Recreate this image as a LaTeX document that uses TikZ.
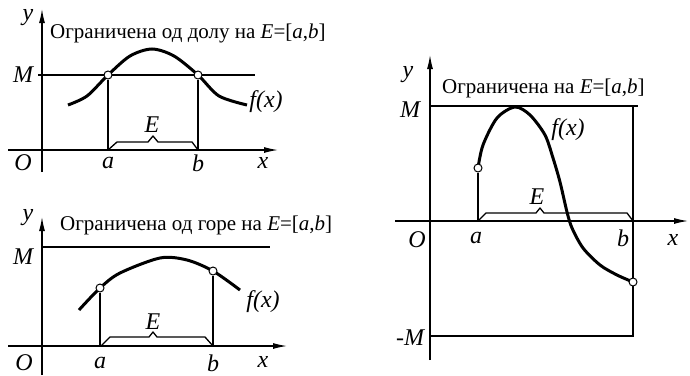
\documentclass[tikz,border=0pt]{standalone}
\usepackage{fontspec}
\setmainfont{Liberation Serif}
\usetikzlibrary{arrows.meta}

\begin{document}
\begin{tikzpicture}[x=1pt, y=-1pt,
  axis/.style={line width=1.2pt, -{Latex[length=14pt, width=6pt]}},
  thinline/.style={line width=1.1pt},
  fcurve/.style={line width=3pt},
  bracket/.style={line width=1.3pt, line join=round},
  dot/.style={circle, draw, fill=white, line width=1pt, inner sep=0pt, minimum size=8pt},
  lbl/.style={font=\fontsize{24}{24}\selectfont\itshape, inner sep=0pt},
  title/.style={font=\fontsize{21}{21}\selectfont, anchor=west, inner sep=0pt}
]
  \useasboundingbox (0,0) rectangle (690,375);

  % bounded below
  \coordinate (O1) at (42,150);
  \draw[axis] (8,150) -- (278,150);
  \draw[axis] (42,172) -- (42,9);
  \draw[thinline] (38,75) -- (255,75);
  \draw[fcurve] plot[smooth] coordinates {(68,105) (87,96) (108,75) (130,56) (152,49)
    (174,56) (198,75) (219,96) (247,105)};
  \node[dot] (a1) at (108,75) {};
  \node[dot] (b1) at (198,75) {};
  \draw[thinline] (a1) -- (a1 |- O1);
  \draw[thinline] (b1) -- (b1 |- O1);
  \draw[bracket] (108,150) -- (117,142) -- (148,142) -- (153,136) -- (158,142)
    -- (192,142) -- (198,150);
  \node[title] (t1) at (50,33) {Ограничена од долу на \textit{E}=[\textit{a},\textit{b}]};
  \node[lbl] (y1) at (28,18) {y};
  \node[lbl] (M1) at (23,75) {M};
  \node[lbl] (f1) at (266,102) {f(x)};
  \node[lbl] (E1) at (152,125) {E};
  \node[lbl] (o1) at (23,163) {O};
  \node[lbl] (la1) at (108,163) {a};
  \node[lbl] (lb1) at (198,163) {b};
  \node[lbl] (x1) at (263,163) {x};

  % bounded above
  \coordinate (O2) at (42,346);
  \draw[axis] (8,346) -- (287,346);
  \draw[axis] (42,375) -- (42,217);
  \draw[thinline] (42,247) -- (270,247);
  \draw[fcurve] plot[smooth] coordinates {(79,310) (100,288) (120,273) (160,258)
    (187,260) (213,271) (240,290)};
  \node[dot] (a2) at (100,288) {};
  \node[dot] (b2) at (213,271) {};
  \draw[thinline] (a2) -- (a2 |- O2);
  \draw[thinline] (b2) -- (b2 |- O2);
  \draw[bracket] (101,346) -- (110,337) -- (149,337) -- (153,332) -- (157,337)
    -- (205,337) -- (213,346);
  \node[title] (t2) at (60,225) {Ограничена од горе на \textit{E}=[\textit{a},\textit{b}]};
  \node[lbl] (y2) at (28,218) {y};
  \node[lbl] (M2) at (23,257) {M};
  \node[lbl] (f2) at (263,302) {f(x)};
  \node[lbl] (E2) at (153,322) {E};
  \node[lbl] (o2) at (24,363) {O};
  \node[lbl] (la2) at (100,363) {a};
  \node[lbl] (lb2) at (213,363) {b};
  \node[lbl] (x2) at (263,362) {x};

  % bounded
  \coordinate (O3) at (430,221);
  \draw[axis] (395,221) -- (688,221);
  \draw[axis] (430,360) -- (430,55);
  \draw[thinline] (430,106) -- (638,106);
  \draw[thinline] (430,336) -- (633,336) -- (633,106);
  \draw[fcurve] plot[smooth] coordinates {(478,168) (483,145) (497,118) (515,107)
    (530,115) (545,135) (553,158) (560,182) (567,212) (572,228) (583,248) (600,265)
    (617,275) (633,282)};
  \node[dot] (a3) at (478,168) {};
  \node[dot] (b3) at (633,282) {};
  \draw[thinline] (a3) -- (a3 |- O3);
  \draw[bracket] (478,221) -- (486,213) -- (536,213) -- (540,208) -- (544,213)
    -- (627,213) -- (633,221);
  \node[title] (t3) at (442,88) {Ограничена на \textit{E}=[\textit{a},\textit{b}]};
  \node[lbl] (y3) at (408,75) {y};
  \node[lbl] (M3) at (410,110) {M};
  \node[lbl] (mM3) at (410,338) {-M};
  \node[lbl] (f3) at (568,130) {f(x)};
  \node[lbl] (E3) at (537,197) {E};
  \node[lbl] (o3) at (417,240) {O};
  \node[lbl] (la3) at (476,238) {a};
  \node[lbl] (lb3) at (623,238) {b};
  \node[lbl] (x3) at (673,240) {x};
\end{tikzpicture}
\end{document}
